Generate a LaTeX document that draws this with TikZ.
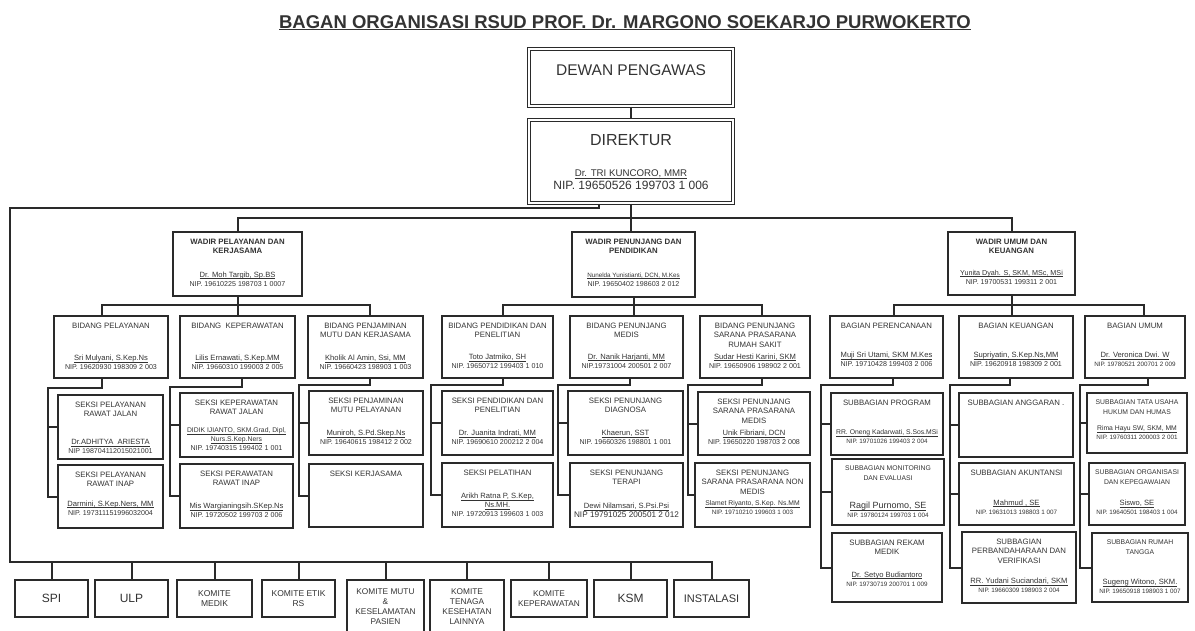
\documentclass[tikz,border=0pt]{standalone}
\usepackage{fontspec}
\setmainfont{Liberation Sans}
\definecolor{ln}{HTML}{2A2A2A}
\definecolor{tx}{HTML}{333333}
\tikzset{
  orgbox/.style={rectangle, draw=ln, line width=2.6pt, fill=white, inner sep=0pt},
  dblbox/.style={rectangle, draw=ln, line width=1.7pt, double=white, double distance=1.1pt, fill=white, inner sep=0pt},
  conn/.style={draw=ln, line width=2pt},
  ttl/.style={text=tx, align=center, inner sep=0pt, font=\fontsize{7.8}{9.6}\selectfont},
  prs/.style={text=tx, align=center, inner sep=0pt, font=\fontsize{7.6}{9}\selectfont},
  bot/.style={rectangle, draw=ln, line width=2.6pt, fill=white, inner sep=0pt, text=tx, align=center},
  lbl/.style={text=tx, inner sep=0pt},
}
\newsavebox\ulbox
\newcommand\ulx[1]{\sbox\ulbox{#1}\rlap{\rule[-1.5pt]{\wd\ulbox}{0.5pt}}\usebox\ulbox}
\newcommand\nipx[1]{{\fontsize{7.1}{9}\selectfont #1}}
\newcommand\nipy[1]{{\fontsize{6.3}{8}\selectfont #1}}
\newcommand\sm[1]{{\fontsize{6.8}{8}\selectfont #1}}
\newcommand\obox[8][9]{%
  \pgfmathsetmacro\obW{#5-#3}\pgfmathsetmacro\obH{#6-#4}%
  \pgfmathsetmacro\obX{(#3+#5)/2}\pgfmathsetmacro\obY{(#4+#6)/2}%
  \node[orgbox, minimum width=\obW pt, minimum height=\obH pt] (#2) at (\obX,\obY) {};
  \node[ttl, anchor=north] (#2-t) at ([yshift=-8pt]#2.north) {#7};
  \node[prs, anchor=south] (#2-p) at ([yshift=#1pt]#2.south) {#8};
}
\newcommand\bbox[7]{%
  \pgfmathsetmacro\obW{#4-#2}\pgfmathsetmacro\obH{#5-#3}%
  \pgfmathsetmacro\obX{(#2+#4)/2}\pgfmathsetmacro\obY{(#3+#5)/2}%
  \node[bot, minimum width=\obW pt, minimum height=\obH pt, font=#6] (#1) at (\obX,\obY) {#7};
}
\begin{document}
\begin{tikzpicture}[x=1pt,y=-1pt]
\fill[white] (0,0) rectangle (1195,630);
\useasboundingbox (0,0) rectangle (1195,630);

% title
\node[lbl, anchor=base, font=\bfseries\fontsize{18.5}{20}\selectfont] (title) at (625,28) {\underline{BAGAN ORGANISASI RSUD PROF. Dr. MARGONO SOEKARJO PURWOKERTO}};

% top
\node[dblbox, minimum width=204pt, minimum height=57pt] (dewan) at (631,77.5) {};
\node[lbl, anchor=base, font=\fontsize{15.5}{17}\selectfont] (dewan-t) at (631,75.5) {DEWAN PENGAWAS};
\node[dblbox, minimum width=204pt, minimum height=83pt] (dir) at (631,161.5) {};
\node[lbl, anchor=base, font=\fontsize{16}{18}\selectfont] (dir-t) at (631,145.8) {DIREKTUR};
\node[lbl, anchor=base, font=\fontsize{9.7}{11}\selectfont] (dir-n) at (631,176.5) {\ulx{Dr. TRI KUNCORO, MMR}};
\node[lbl, anchor=base, font=\fontsize{12}{14}\selectfont] (dir-p) at (631,189.3) {NIP. 19650526 199703 1 006};

% wadir
\obox[11]{w1}{173}{232}{302}{296}{\textbf{WADIR PELAYANAN DAN}\\\textbf{KERJASAMA}}{\ulx{Dr. Moh Targib, Sp.BS}\\\nipx{NIP. 19610225 198703 1 0007}}
\obox[12]{w2}{572}{232}{695}{297}{\textbf{WADIR PENUNJANG DAN}\\\textbf{PENDIDIKAN}}{{\fontsize{6.3}{8}\selectfont\ulx{Nunelda Yunistianti, DCN, M.Kes}}\\\nipx{NIP. 19650402 198603 2 012}}
\obox[12]{w3}{948}{232}{1075}{295}{\textbf{WADIR UMUM DAN}\\\textbf{KEUANGAN}}{{\fontsize{7.2}{8}\selectfont\ulx{Yunita Dyah. S, SKM, MSc, MSi}}\\\nipx{NIP. 19700531 199311 2 001}}

% bidang / bagian
\obox[9.5]{b1}{54}{316}{168}{378}{BIDANG PELAYANAN}{\ulx{Sri Mulyani, S.Kep.Ns}\\\nipx{NIP. 19620930 198309 2 003}}
\obox[9.5]{b2}{180}{316}{295}{378}{BIDANG\ \ KEPERAWATAN}{\ulx{Lilis Ernawati, S.Kep.MM}\\\nipx{NIP. 19660310 199003 2 005}}
\obox[9.5]{b3}{308}{316}{423}{378}{BIDANG PENJAMINAN\\MUTU DAN KERJASAMA}{\ulx{Kholik Al Amin, Ssi, MM}\\\nipx{NIP. 19660423 198903 1 003}}
\obox[10.5]{b4}{442}{316}{553}{378}{BIDANG PENDIDIKAN DAN\\PENELITIAN}{\ulx{Toto Jatmiko, SH}\\\nipx{NIP. 19650712 199403 1 010}}
\obox[11]{b5}{570}{316}{683}{378}{BIDANG PENUNJANG\\MEDIS}{\ulx{Dr. Nanik Harjanti, MM}\\\nipx{NIP.19731004 200501 2 007}}
\obox[11]{b6}{700}{316}{810}{378}{BIDANG PENUNJANG\\SARANA PRASARANA\\RUMAH SAKIT}{\ulx{Sudar Hesti Karini, SKM}\\\nipx{NIP. 19650906 198902 2 001}}
\obox[12.5]{c1}{830}{316}{943}{378}{BAGIAN PERENCANAAN}{\ulx{Muji Sri Utami, SKM M.Kes}\\\nipx{NIP. 19710428 199403 2 006}}
\obox[12.5]{c2}{959}{316}{1073}{378}{BAGIAN KEUANGAN}{\ulx{Supriyatin, S.Kep.Ns,MM}\\\nipx{NIP. 19620918 198309 2 001}}
\obox[12.5]{c3}{1085}{316}{1185}{378}{BAGIAN UMUM}{\ulx{Dr. Veronica Dwi. W}\\\nipy{NIP. 19780521 200701 2 009}}

% seksi
\obox[6.5]{s1}{58}{395}{163}{459}{SEKSI PELAYANAN\\RAWAT JALAN}{\ulx{Dr.ADHITYA\ \ ARIESTA}\\\nipx{NIP 198704112015021001}}
\obox[14]{s2}{58}{465}{163}{528}{SEKSI PELAYANAN\\RAWAT INAP}{\ulx{Darmini, S.Kep.Ners, MM}\\\nipx{NIP. 197311151996032004}}
\obox[7.5]{s3}{180}{393}{293}{457}{SEKSI KEPERAWATAN\\RAWAT JALAN}{\sm{\ulx{DIDIK IJIANTO, SKM.Grad, Dipl,}}\\\sm{\ulx{Nurs.S.Kep.Ners}}\\\nipx{NIP. 19740315 199402 1 001}}
\obox[11.5]{s4}{180}{464}{293}{528}{SEKSI PERAWATAN\\RAWAT INAP}{\ulx{Mis Wargianingsih.SKep.Ns}\\\nipx{NIP. 19720502 199703 2 006}}
\obox[11.5]{s5}{309}{391}{423}{455}{SEKSI PENJAMINAN\\MUTU PELAYANAN}{\ulx{Muniroh, S.Pd.Skep.Ns}\\\nipx{NIP. 19640615 198412 2 002}}
\obox{s6}{309}{464}{423}{527}{SEKSI KERJASAMA}{}
\obox[11.5]{s7}{442}{391}{553}{455}{SEKSI PENDIDIKAN DAN\\PENELITIAN}{\ulx{Dr. Juanita Indrati, MM}\\\nipx{NIP. 19690610 200212 2 004}}
\obox[11.5]{s8}{442}{463}{553}{527}{SEKSI PELATIHAN}{\ulx{Arikh Ratna P, S.Kep,}\\\ulx{Ns.MH.}\\\nipx{NIP. 19720913 199603 1 003}}
\obox[11.5]{s9}{568}{391}{683}{455}{SEKSI PENUNJANG\\DIAGNOSA}{\ulx{Khaerun, SST}\\\nipx{NIP. 19660326 198801 1 001}}
\obox[10.5]{s10}{570}{463}{683}{527}{SEKSI PENUNJANG\\TERAPI}{\ulx{Dewi Nilamsari, S.Psi.Psi}\\{\fontsize{8.2}{9}\selectfont NIP 19791025 200501 2 012}}
\obox[11.5]{s11}{698}{392}{810}{455}{SEKSI PENUNJANG\\SARANA PRASARANA\\MEDIS}{\ulx{Unik Fibriani, DCN}\\\nipx{NIP. 19650220 198703 2 008}}
\obox[13.5]{s12}{695}{463}{810}{527}{SEKSI PENUNJANG\\SARANA PRASARANA NON\\MEDIS}{\sm{\ulx{Slamet Riyanto, S.Kep. Ns.MM}}\\\nipy{NIP. 19710210 199603 1 003}}

% subbagian
\obox[12.5]{d1}{831}{393}{943}{455}{SUBBAGIAN PROGRAM}{\sm{\ulx{RR. Oneng Kadarwati, S.Sos.MSi}}\\\nipy{NIP. 19701026 199403 2 004}}
\obox[8.5]{d2}{832}{459}{944}{525}{\sm{SUBBAGIAN MONITORING}\\\sm{DAN EVALUASI}}{{\fontsize{9}{10}\selectfont\ulx{Ragil Purnomo, SE}}\\\nipy{NIP. 19780124 199703 1 004}}
\obox[17]{d3}{832}{533}{942}{602}{SUBBAGIAN REKAM\\MEDIK}{\ulx{Dr. Setyo Budiantoro}\\\nipy{NIP. 19730719 200701 1 009}}
\obox{e1}{959}{393}{1073}{457}{SUBBAGIAN ANGGARAN .}{}
\obox[11.7]{e2}{959}{463}{1074}{525}{SUBBAGIAN AKUNTANSI}{\ulx{Mahmud , SE}\\\nipy{NIP. 19631013 198803 1 007}}
\obox[11.4]{e3}{962}{532}{1076}{603}{SUBBAGIAN\\PERBANDAHARAAN DAN\\VERIFIKASI}{\ulx{RR. Yudani Suciandari, SKM}\\\nipy{NIP. 19660309 198903 2 004}}
\obox[14.4]{f1}{1087}{393}{1187}{453}{\sm{SUBBAGIAN TATA USAHA}\\\sm{HUKUM DAN HUMAS}}{\sm{\ulx{Rima Hayu SW, SKM, MM}}\\\nipy{NIP. 19760311 200003 2 001}}
\obox[11.4]{f2}{1089}{463}{1185}{525}{\sm{SUBBAGIAN ORGANISASI}\\\sm{DAN KEPEGAWAIAN}}{\ulx{Siswo, SE}\\\nipy{NIP. 19640501 198403 1 004}}
\obox[9.4]{f3}{1092}{533}{1188}{602}{\sm{SUBBAGIAN RUMAH}\\\sm{TANGGA}}{\ulx{Sugeng Witono, SKM.}\\\nipy{NIP. 19650918 198903 1 007}}

% bottom row
\bbox{spi}{15}{580}{88}{617}{\fontsize{12}{14}\selectfont}{SPI}
\bbox{ulp}{95}{580}{168}{617}{\fontsize{12}{14}\selectfont}{ULP}
\bbox{kmed}{177}{580}{252}{617}{\fontsize{8.5}{10.7}\selectfont}{KOMITE\\MEDIK}
\bbox{ketik}{262}{580}{335}{617}{\fontsize{8.5}{10.7}\selectfont}{KOMITE ETIK\\RS}
\bbox{kmutu}{347}{580}{424}{633}{\fontsize{8.3}{10.2}\selectfont}{KOMITE MUTU\\\&\\KESELAMATAN\\PASIEN}
\bbox{ktng}{430}{580}{504}{633}{\fontsize{8.3}{10.2}\selectfont}{KOMITE\\TENAGA\\KESEHATAN\\LAINNYA}
\bbox{kkep}{511}{580}{587}{617}{\fontsize{8.3}{10.2}\selectfont}{KOMITE\\KEPERAWATAN}
\bbox{ksm}{594}{580}{667}{617}{\fontsize{12}{14}\selectfont}{KSM}
\bbox{inst}{674}{580}{749}{617}{\fontsize{11}{13}\selectfont}{INSTALASI}

% connectors: top
\coordinate (hub) at (631,218);
\coordinate (lt) at (10,208);
\coordinate (lb) at (10,562);
\draw[conn] (dewan.south) -- (dir.north);
\draw[conn] (dir.south) -- (dir.south |- w2.north);
\draw[conn] (w1.north) |- (hub) -| (w3.north);
\draw[conn] ([xshift=-32pt]dir.south) |- (lt) -- (lb) -| (inst.north);
\foreach \n in {spi,ulp,kmed,ketik,kmutu,ktng,kkep,ksm}
  \draw[conn] (lb -| \n.north) -- (\n.north);

% wadir -> bidang
\draw[conn] (w1.south) -- (w1.south |- b2.north);
\draw[conn] ([xshift=-9pt]b1.north) |- (w1.south |- 0,305) -| ([xshift=4.5pt]b3.north);
\draw[conn] (w2.south) -- (w2.south |- b5.north);
\draw[conn] ([xshift=5pt]b4.north) |- (w2.south |- 0,305) -| ([xshift=7pt]b6.north);
\draw[conn] (w3.south) -- (w3.south |- c2.north);
\draw[conn] ([xshift=7pt]c1.north) |- (w3.south |- 0,305) -| ([xshift=9pt]c3.north);

% bidang -> seksi
\coordinate (j1) at (48,388);
\coordinate (j2) at (170,387);
\coordinate (j3) at (299,385);
\coordinate (j4) at (431,385);
\coordinate (j5) at (558,385);
\coordinate (j6) at (688,385);
\coordinate (j7) at (821,385);
\coordinate (j8) at (950,385);
\coordinate (j9) at (1080,385);
\draw[conn] ([xshift=-9pt]b1.south) |- (j1) |- (s2.west);
\draw[conn] (s1.west -| j1) -- (s1.west);
\draw[conn] ([xshift=4pt]b2.south) |- (j2) |- (s4.west);
\draw[conn] (s3.west -| j2) -- (s3.west);
\draw[conn] ([xshift=4.5pt]b3.south) |- (j3) |- (s6.west);
\draw[conn] (s5.west -| j3) -- (s5.west);
\draw[conn] ([xshift=5pt]b4.south) |- (j4) |- (s8.west);
\draw[conn] (s7.west -| j4) -- (s7.west);
\draw[conn] ([xshift=3.5pt]b5.south) |- (j5) |- (s10.west);
\draw[conn] (s9.west -| j5) -- (s9.west);
\draw[conn] ([xshift=7pt]b6.south) |- (j6) |- (s12.west);
\draw[conn] (s11.west -| j6) -- (s11.west);
\draw[conn] ([xshift=6.5pt]c1.south) |- (j7) |- (d3.west);
\draw[conn] (d1.west -| j7) -- (d1.west);
\draw[conn] (d2.west -| j7) -- (d2.west);
\draw[conn] ([xshift=-6pt]c2.south) |- (j8) |- (e3.west);
\draw[conn] (e1.west -| j8) -- (e1.west);
\draw[conn] (e2.west -| j8) -- (e2.west);
\draw[conn] ([xshift=13pt]c3.south) |- (j9) |- (f3.west);
\draw[conn] (f1.west -| j9) -- (f1.west);
\draw[conn] (f2.west -| j9) -- (f2.west);
\end{tikzpicture}
\end{document}
